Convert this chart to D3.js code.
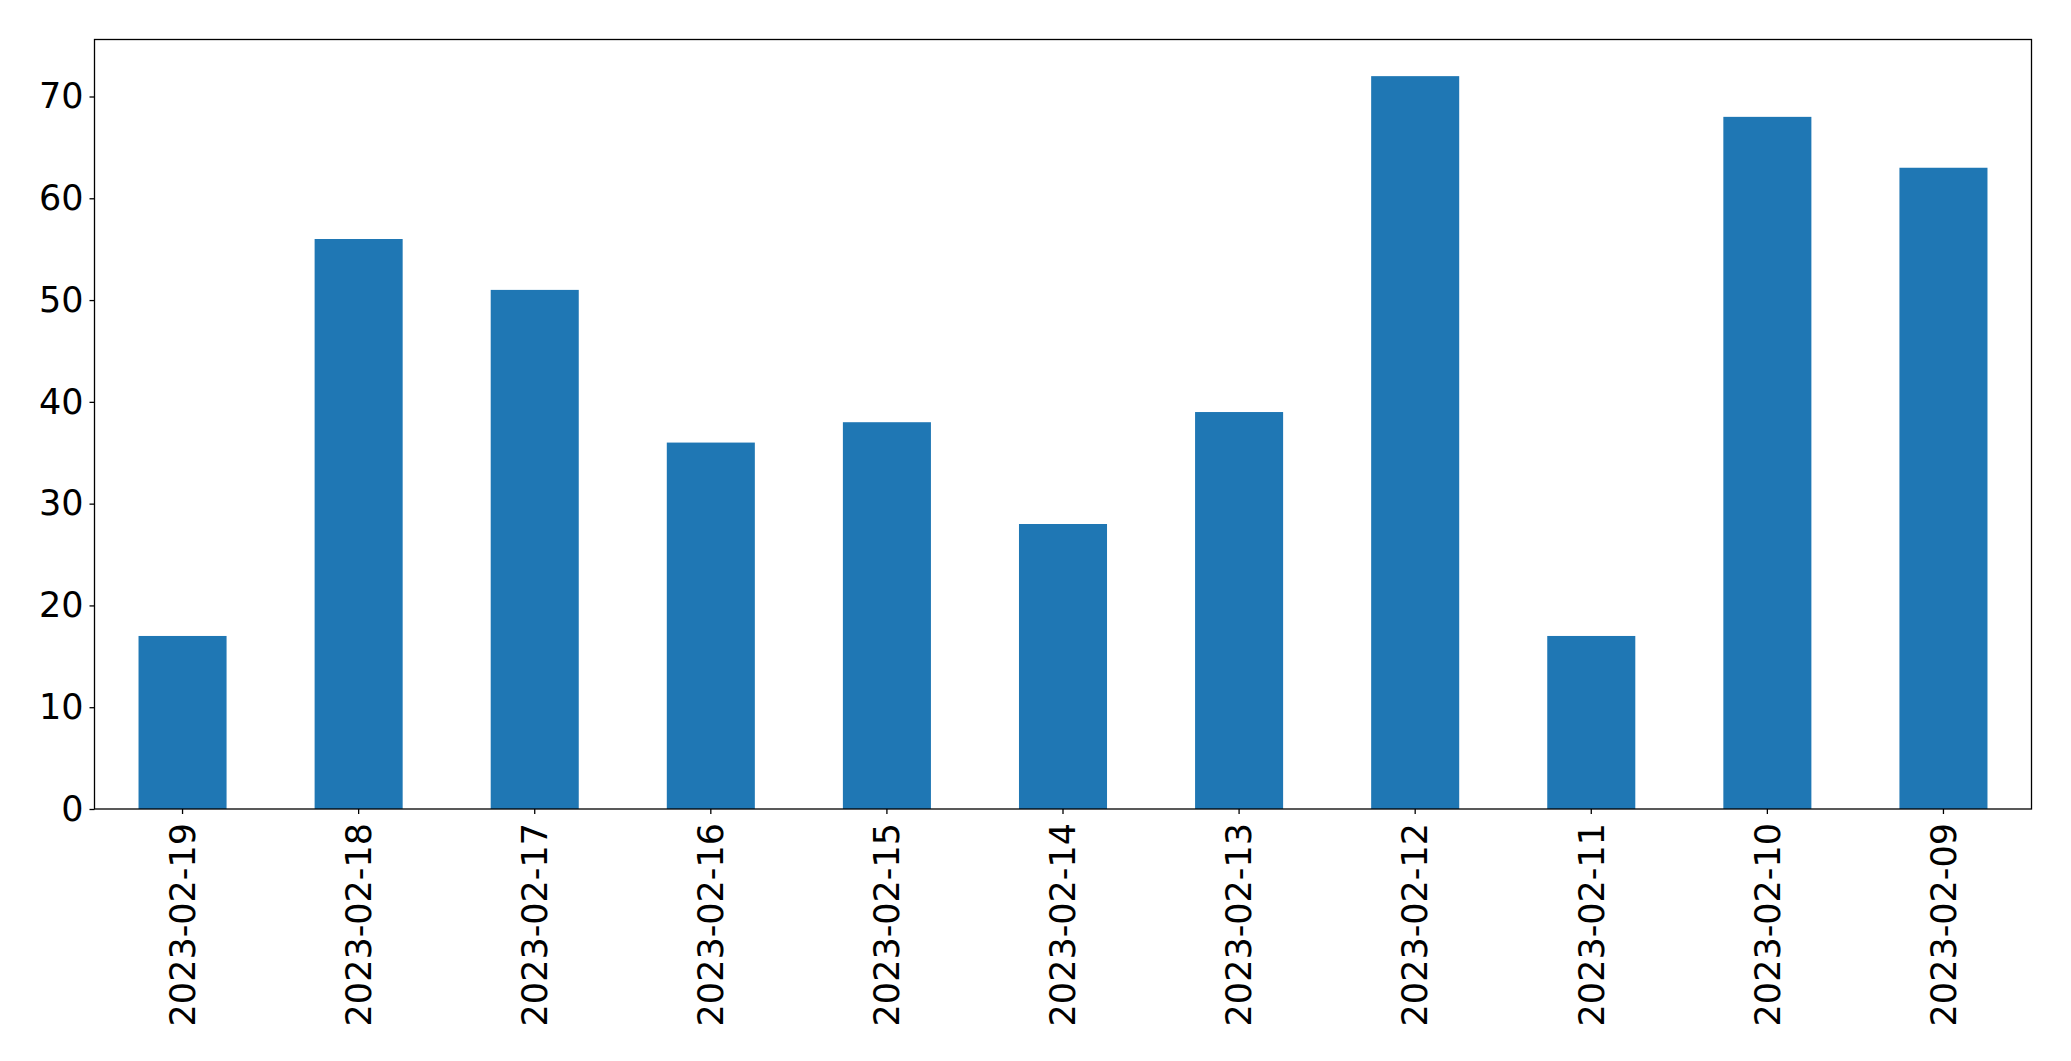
<!DOCTYPE html>
<html>
<head>
<meta charset="utf-8">
<script src="https://cdn.jsdelivr.net/npm/d3@7"></script>
<style>
  html, body { margin: 0; padding: 0; background: #fff; }
  svg { display: block; }
  .tick text { font-family: "DejaVu Sans", sans-serif; fill: #000; }
</style>
</head>
<body>
<svg id="chart" width="2071" height="1061"></svg>
<script>
const categories = ["2023-02-19","2023-02-18","2023-02-17","2023-02-16","2023-02-15","2023-02-14","2023-02-13","2023-02-12","2023-02-11","2023-02-10","2023-02-09"];
const values = [17, 56, 51, 36, 38, 28, 39, 72, 17, 68, 63];
const yTicks = [0, 10, 20, 30, 40, 50, 60, 70];

const margin = {left: 94.5, top: 39.5, right: 2071 - 2031.5, bottom: 1061 - 809};
const W = 2071 - margin.left - margin.right;
const H = 1061 - margin.top - margin.bottom;
const fontSize = 35;

const svg = d3.select("#chart");
const g = svg.append("g").attr("transform", `translate(${margin.left},${margin.top})`);

const x = d3.scaleBand().domain(categories).range([0, W]).paddingInner(0.5).paddingOuter(0.25);
const y = d3.scaleLinear().domain([0, d3.max(values) * 1.05]).range([H, 0]);

g.selectAll("rect.bar").data(values).enter().append("rect")
  .attr("class", "bar")
  .attr("x", (d, i) => x(categories[i]))
  .attr("width", x.bandwidth())
  .attr("y", d => y(d))
  .attr("height", d => H - y(d))
  .attr("fill", "#1f77b4");

const yAxis = g.append("g")
  .call(d3.axisLeft(y).tickValues(yTicks).tickSize(5).tickPadding(6).tickFormat(d3.format("d")));
yAxis.select(".domain").remove();
yAxis.selectAll(".tick line").attr("stroke", "#000").attr("stroke-width", 1.3);
yAxis.selectAll(".tick text").style("font-size", fontSize + "px");

const xAxis = g.append("g").attr("transform", `translate(0,${H})`)
  .call(d3.axisBottom(x).tickSize(5).tickPadding(0));
xAxis.select(".domain").remove();
xAxis.selectAll(".tick line").attr("stroke", "#000").attr("stroke-width", 1.3);
xAxis.selectAll(".tick text")
  .style("font-size", fontSize + "px")
  .attr("text-anchor", "end")
  .attr("transform", "rotate(-90)")
  .attr("x", -14)
  .attr("y", 0)
  .attr("dy", "0.35em");

g.append("rect")
  .attr("x", 0).attr("y", 0).attr("width", W).attr("height", H)
  .attr("fill", "none").attr("stroke", "#000").attr("stroke-width", 1.3);
</script>
</body>
</html>
